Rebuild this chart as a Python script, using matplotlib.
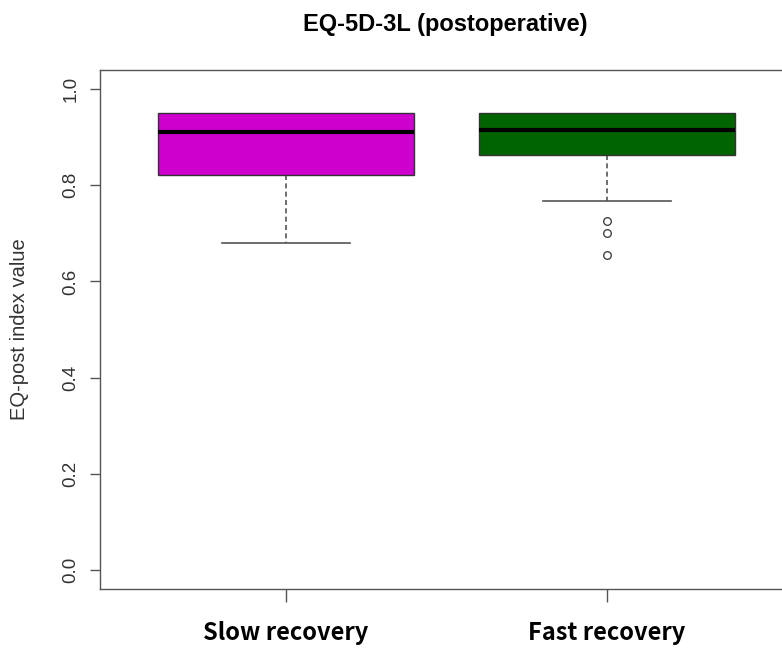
import matplotlib
matplotlib.use("Agg")
import matplotlib.pyplot as plt

# data
groups = ["Slow recovery", "Fast recovery"]
medians = [0.912, 0.915]
q1 = [0.821, 0.863]
q3 = [0.950, 0.950]
whislo = [0.679, 0.767]
whishi = [0.950, 0.950]
outliers = [[], [0.725, 0.700, 0.656]]
colors = ["#CD00CD", "#006400"]

plt.rcParams['font.family'] = ['Liberation Sans', 'DejaVu Sans']

fig = plt.figure(figsize=(7.82, 6.49), dpi=100)
ax = fig.add_axes([100 / 782, 1 - 589 / 649, 693 / 782, 519 / 649])

stats = []
for i in range(len(groups)):
    stats.append(dict(med=medians[i], q1=q1[i], q3=q3[i],
                      whislo=whislo[i], whishi=whishi[i],
                      fliers=outliers[i], label=groups[i]))

bp = ax.bxp(stats, positions=[1, 2], widths=0.8, patch_artist=True,
            boxprops=dict(edgecolor="#333333", linewidth=1.0),
            medianprops=dict(color="black", linewidth=3.0),
            whiskerprops=dict(color="#555555", linestyle=(0, (3, 2)), linewidth=1.2),
            capprops=dict(color="#555555", linewidth=1.2),
            flierprops=dict(marker="o", markerfacecolor="none",
                            markeredgecolor="#444444", markersize=5.5,
                            markeredgewidth=1.0))
for patch, c in zip(bp["boxes"], colors):
    patch.set_facecolor(c)
    patch.set_zorder(3)
for m in bp["medians"]:
    m.set_zorder(4)

# cap width is half the box width, like R; an upper cap that sits on
# the box edge is hidden under it
for j, cap in enumerate(bp["caps"]):
    pos = j // 2 + 1
    cap.set_xdata([pos - 0.2, pos + 0.2])
    i = j // 2
    if j % 2 == 1 and whishi[i] == q3[i]:
        cap.set_visible(False)

ax.set_xlim(0.42, 2.58)
ax.set_ylim(-0.04, 1.04)
ax.set_yticks([0.0, 0.2, 0.4, 0.6, 0.8, 1.0])
ax.set_yticklabels(["0.0", "0.2", "0.4", "0.6", "0.8", "1.0"],
                   rotation=90, va="center", fontsize=13.5, color="#333333")
ax.set_xticks([1, 2])
ax.set_xticklabels(groups, fontsize=17, fontweight="bold",
                   family=['Noto Sans CJK KR', 'DejaVu Sans'])
ax.tick_params(axis="y", length=7, width=1, color="#555555", pad=8)
ax.tick_params(axis="x", length=9, width=1, color="#555555", pad=14)

for s in ax.spines.values():
    s.set_color("#555555")
    s.set_linewidth(1.0)

ax.set_ylabel("EQ-post index value", fontsize=14.5, color="#333333", labelpad=24)
ax.set_title("EQ-5D-3L (postoperative)", fontsize=17, fontweight="bold",
             x=(445 - 100) / 693, pad=28)

fig.savefig("out.png", dpi=100)
